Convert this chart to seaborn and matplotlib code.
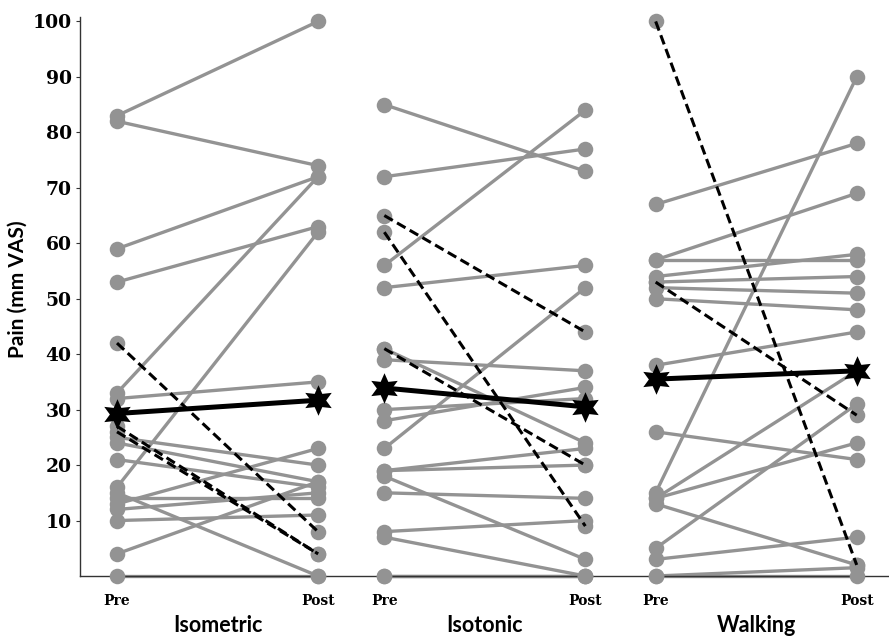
import numpy as np
import pandas as pd
import seaborn as sns
import matplotlib.pyplot as plt

# ---------------- data ----------------
groups = ["Isometric", "Isotonic", "Walking"]
phases = ["Pre", "Post"]

iso_pre = [83, 82, 59, 53, 42, 33, 32, 27, 26, 25, 24, 21, 16, 15, 14, 13, 12, 10, 4, 0]
iso_post = [100, 74, 72, 63, 8, 72, 35, 4, 4, 20, 17, 16, 62, 0, 14, 23, 15, 11, 17, 0]
iso_dashed = [0, 0, 0, 0, 1, 0, 0, 1, 1, 0, 0, 0, 0, 0, 0, 0, 0, 0, 0, 0]

ist_pre = [85, 72, 65, 62, 56, 52, 41, 41, 39, 30, 28, 23, 19, 19, 18, 15, 8, 7, 0, 0]
ist_post = [73, 77, 44, 9, 84, 56, 20, 24, 37, 32, 34, 52, 23, 20, 3, 14, 10, 0, 0, 0]
ist_dashed = [0, 0, 1, 1, 0, 0, 1, 0, 0, 0, 0, 0, 0, 0, 0, 0, 0, 0, 0, 0]

wlk_pre = [100, 67, 57, 57, 54, 53, 53, 52, 50, 38, 26, 15, 14, 14, 13, 5, 3, 0, 0]
wlk_post = [2, 78, 69, 57, 58, 29, 54, 51, 48, 44, 21, 90, 37, 24, 2, 31, 7, 1.5, 0]
wlk_dashed = [1, 0, 0, 0, 0, 1, 0, 0, 0, 0, 0, 0, 0, 0, 0, 0, 0, 0, 0]

mean_pre = [29.3, 33.9, 35.5]
mean_post = [31.7, 30.5, 37.0]

yticks = [10, 20, 30, 40, 50, 60, 70, 80, 90, 100]

# ---------------- layout helpers ----------------
group_start = [0.0, 1.33, 2.68]
span = 1.0

rows = []
for g, (pre, post, dsh) in enumerate([(iso_pre, iso_post, iso_dashed),
                                      (ist_pre, ist_post, ist_dashed),
                                      (wlk_pre, wlk_post, wlk_dashed)]):
    for i, (a, b, d) in enumerate(zip(pre, post, dsh)):
        uid = f"{g}_{i}"
        rows.append(dict(uid=uid, x=group_start[g], pain=a, dashed=d))
        rows.append(dict(uid=uid, x=group_start[g] + span, pain=b, dashed=d))
df = pd.DataFrame(rows)

mrows = []
for g in range(3):
    mrows.append(dict(uid=g, x=group_start[g], pain=mean_pre[g]))
    mrows.append(dict(uid=g, x=group_start[g] + span, pain=mean_post[g]))
mdf = pd.DataFrame(mrows)

# ---------------- plotting ----------------
sns.set_theme(style="white")
plt.rcParams['font.family'] = ['DejaVu Sans']
plt.rcParams['text.color'] = 'black'
plt.rcParams['xtick.color'] = 'black'
plt.rcParams['ytick.color'] = 'black'

W, H = 889, 639
fig = plt.figure(figsize=(W / 100, H / 100), dpi=100)
ax = fig.add_axes([80 / W, 63 / H, (W - 80) / W, 559 / H])

grey = "#939393"

sns.lineplot(data=df[df.dashed == 0], x="x", y="pain", units="uid", estimator=None,
             sort=False, color=grey, lw=2.4, ax=ax, legend=False, clip_on=False, zorder=2)
sns.scatterplot(data=df, x="x", y="pain", color=grey, s=125, linewidth=0,
                ax=ax, legend=False, clip_on=False, zorder=3)
sns.lineplot(data=df[df.dashed == 1], x="x", y="pain", units="uid", estimator=None,
             sort=False, color="black", lw=2.2, linestyle=(0, (3.2, 1.6)),
             ax=ax, legend=False, clip_on=False, zorder=4)
sns.lineplot(data=mdf, x="x", y="pain", units="uid", estimator=None, sort=False,
             color="black", lw=3.6, marker=(6, 1, 0), markersize=22,
             markeredgewidth=0, ax=ax, legend=False, clip_on=False, zorder=5)

ax.set_xlim((80 - 117) / 201, (W - 117) / 201)
ax.set_ylim(0, 100.8)

ax.set_yticks(yticks)
ax.set_yticklabels([str(t) for t in yticks], fontfamily="DejaVu Serif",
                   fontweight="bold", fontsize=13.5, color="black")
xt = []
xl = []
for g in range(3):
    xt += [group_start[g], group_start[g] + span]
    xl += phases
ax.set_xticks(xt)
ax.set_xticklabels(xl, fontfamily="DejaVu Serif", fontweight="bold", fontsize=10,
                   color="black")
ax.tick_params(axis="y", direction="out", length=3, width=0.8, pad=3, color="#333333", left=True)
ax.tick_params(axis="x", length=0, pad=13)

for s in ["top", "right"]:
    ax.spines[s].set_visible(False)
for s in ["left", "bottom"]:
    ax.spines[s].set_color("#333333")
    ax.spines[s].set_linewidth(1.0)

ax.set_xlabel("")
ax.set_ylabel("")
ax.grid(False)

for g, name in enumerate(groups):
    ax.text(group_start[g] + span / 2, -0.088, name, transform=ax.get_xaxis_transform(),
            ha="center", va="center", fontsize=15.5, fontweight="bold", family="Lato",
            color="black")

fig.text(18 / W, 1 - 289 / H, "Pain (mm VAS)", rotation=90, ha="center", va="center",
         fontsize=15, fontweight="bold", family="Lato", color="black")

fig.savefig("out.png", dpi=100, facecolor="white")
